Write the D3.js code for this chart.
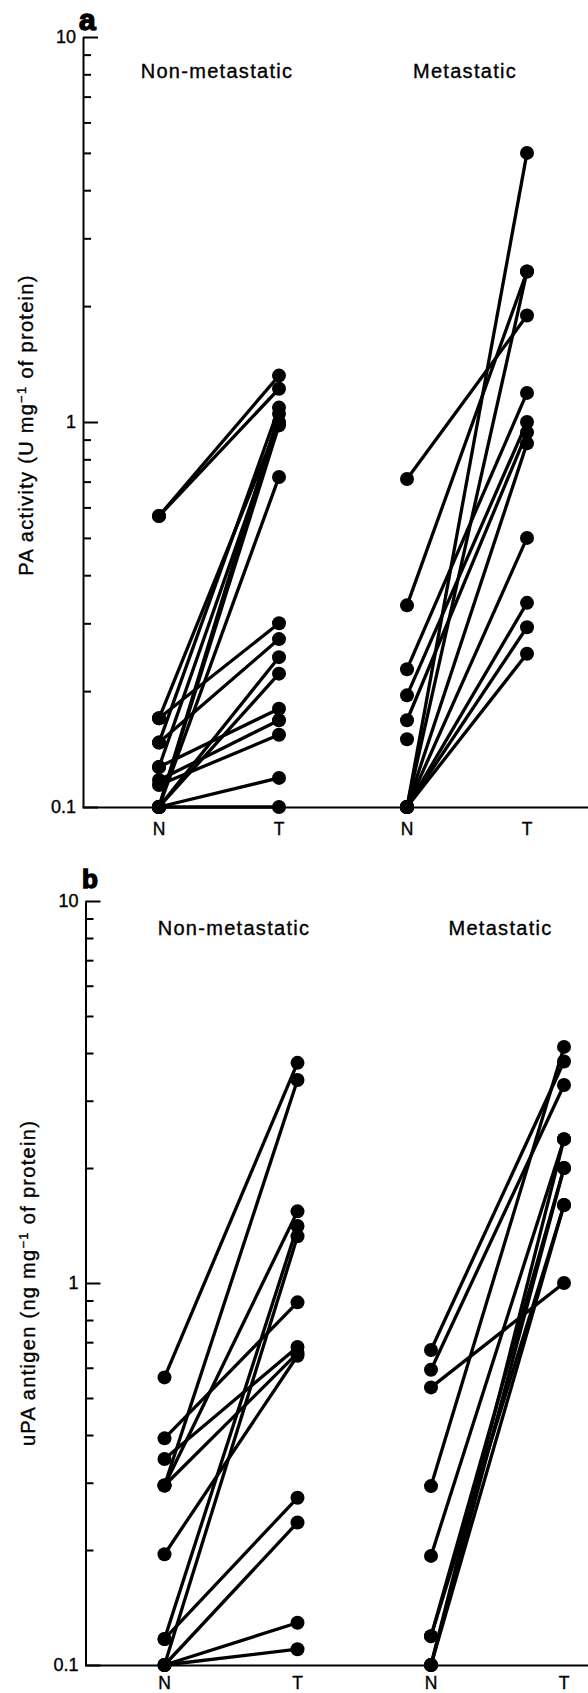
<!DOCTYPE html>
<html><head><meta charset="utf-8">
<script src="https://cdn.jsdelivr.net/npm/d3@7"></script>
<style>
html,body{margin:0;padding:0;background:#fff;}
svg{display:block;}
text{font-family:"Liberation Sans",Arial,Helvetica,sans-serif;fill:#000;}
</style></head><body>
<svg id="chart" width="588" height="1693"></svg>
<script>
// ---------- data ----------
const groups = ["Non-metastatic", "Metastatic"];
const sites = ["N", "T"];
const majorTicks = [0.1, 1, 10];
const majorTickLabels = ["0.1", "1", "10"];
const minorTicks = [0.2, 0.3, 0.4, 0.5, 0.6, 0.7, 0.8, 0.9, 2, 3, 4, 5, 6, 7, 8, 9];

// Panel a: PA activity (U mg-1 of protein); paired normal (N) / tumour (T)
const paNonMetN = [0.57, 0.57, 0.17, 0.17, 0.147, 0.147, 0.127, 0.127, 0.1175, 0.114, 0.1, 0.1, 0.1, 0.1, 0.1, 0.1, 0.1];
const paNonMetT = [1.32, 1.22, 1.0, 0.30, 1.09, 0.273, 0.99, 0.18, 0.168, 0.154, 0.98, 0.72, 0.245, 0.222, 0.119, 0.1, 1.05];
const paMetN = [0.711, 0.334, 0.228, 0.195, 0.168, 0.150, 0.1, 0.1, 0.1, 0.1, 0.1, 0.1, 0.1];
const paMetT = [1.89, 2.46, 1.19, 1.0, 0.94, null, 5.0, 2.46, 0.88, 0.50, 0.339, 0.293, 0.25];

// Panel b: uPA antigen (ng mg-1 of protein)
const upaNonMetN = [0.566, 0.392, 0.346, 0.295, 0.295, 0.295, 0.195, 0.117, 0.117, 0.1, 0.1, 0.1, 0.1];
const upaNonMetT = [3.77, 0.89, 0.68, 3.40, 1.54, 0.655, 0.645, 1.41, 0.274, 1.325, 0.236, 0.129, 0.11];
const upaMetN = [0.668, 0.593, 0.533, 0.294, 0.193, 0.119, 0.119, 0.1, 0.1, 0.1];
const upaMetT = [3.8, 3.3, 1.0, 4.15, 2.38, 2.0, 1.6, 2.38, 2.0, 1.6];

// ---------- drawing ----------
const svg = d3.select("#chart");
const W = 588;

function drawPanel(p) {
  const g = svg.append("g");
  const y = d3.scaleLog().domain([0.1, 10]).range([p.yBottom, p.yTop]);
  const gx = d3.scalePoint().domain(groups).range(p.groupRange);
  const sx = d3.scalePoint().domain(sites).range(p.siteRange);
  const X = (grp, site) => gx(grp) + sx(site);

  // y axis: major ticks + domain
  const ax = g.append("g").attr("transform", `translate(${p.axisX},0)`)
    .call(d3.axisRight(y).tickValues(majorTicks).tickSize(15).tickSizeOuter(0).tickFormat(""));
  ax.select(".domain").attr("stroke", "#000").attr("stroke-width", 2);
  ax.selectAll(".tick line").attr("stroke", "#000").attr("stroke-width", 2);

  const mx = g.append("g").attr("transform", `translate(${p.axisX},0)`)
    .call(d3.axisRight(y).tickValues(minorTicks).tickSize(8).tickFormat(""));
  mx.select(".domain").remove();
  mx.selectAll(".tick line").attr("stroke", "#000").attr("stroke-width", 2);

  // tick labels
  const lab = g.append("g").attr("transform", `translate(${p.axisX},0)`)
    .call(d3.axisLeft(y).tickValues(majorTicks).tickSize(0).tickPadding(p.tickPad)
      .tickFormat((d, i) => majorTickLabels[i]));
  lab.select(".domain").remove();
  lab.selectAll("text").attr("font-size", 18).attr("font-family", '"Liberation Sans",Arial,sans-serif')
    .attr("fill", "#000").attr("stroke", "#000").attr("stroke-width", 0.35);

  // x axis line
  const xb = g.append("g").attr("transform", `translate(0,${y(0.1)})`)
    .call(d3.axisBottom(d3.scaleLinear().range([p.axisX - 1, W])).tickValues([]).tickSizeOuter(0));
  xb.select(".domain").attr("stroke", "#000").attr("stroke-width", 2);

  // N / T labels and group titles
  groups.forEach(grp => {
    sites.forEach(s => {
      g.append("text").attr("x", X(grp, s)).attr("y", p.siteLabelY)
        .attr("text-anchor", "middle").attr("font-size", 17.5)
        .attr("stroke", "#000").attr("stroke-width", 0.35).text(s);
    });
    g.append("text").attr("x", gx(grp) + p.titleDx).attr("y", p.titleY)
      .attr("text-anchor", "middle").attr("font-size", 20)
      .attr("letter-spacing", "1.3px").attr("stroke", "#000").attr("stroke-width", 0.35).text(grp);
  });

  // pairs
  p.series.forEach(ser => {
    const pairs = ser.N.map((n, i) => ({ n, t: ser.T[i] }));
    g.append("g").selectAll("line").data(pairs.filter(d => d.t != null)).join("line")
      .attr("x1", X(ser.group, "N")).attr("y1", d => y(d.n))
      .attr("x2", X(ser.group, "T")).attr("y2", d => y(d.t))
      .attr("stroke", "#000").attr("stroke-width", 3.3);
    g.append("g").selectAll("circle").data(pairs).join("circle")
      .attr("cx", X(ser.group, "N")).attr("cy", d => y(d.n)).attr("r", p.r).attr("fill", "#000");
    g.append("g").selectAll("circle").data(pairs.filter(d => d.t != null)).join("circle")
      .attr("cx", X(ser.group, "T")).attr("cy", d => y(d.t)).attr("r", p.r).attr("fill", "#000");
  });

  // panel letter
  g.append("text").attr("x", p.letterX).attr("y", p.letterY)
    .attr("font-size", p.letterSize).attr("font-weight", "bold")
    .attr("stroke", "#000").attr("stroke-width", 1.4).text(p.letter);

  // y label
  const yl = g.append("text")
    .attr("transform", `translate(${p.ylabX},${(p.yTop + p.yBottom) / 2 + p.ylabDy}) rotate(-90)`)
    .attr("text-anchor", "middle").attr("font-size", 20).attr("letter-spacing", "1.3px")
    .attr("stroke", "#000").attr("stroke-width", 0.35);
  yl.append("tspan").text(p.ylabPre);
  yl.append("tspan").attr("baseline-shift", "super").attr("font-size", 13).text("−1");
  yl.append("tspan").text(p.ylabPost);
}

drawPanel({
  letter: "a", letterX: 79, letterY: 30, letterSize: 30,
  axisX: 83, yTop: 37, yBottom: 807, tickPad: 7,
  groupRange: [219, 467], siteRange: [-60, 60],
  titleY: 78, titleDx: -2, siteLabelY: 835, r: 7,
  ylabX: 33, ylabDy: 3, ylabPre: "PA activity (U mg", ylabPost: " of protein)",
  series: [
    { group: "Non-metastatic", N: paNonMetN, T: paNonMetT },
    { group: "Metastatic", N: paMetN, T: paMetT }
  ]
});

drawPanel({
  letter: "b", letterX: 82, letterY: 888, letterSize: 26,
  axisX: 85.5, yTop: 901, yBottom: 1665, tickPad: 7,
  groupRange: [231, 497.5], siteRange: [-66.5, 66.5],
  titleY: 935, titleDx: 3, siteLabelY: 1688.5, r: 7,
  ylabX: 35, ylabDy: 0, ylabPre: "uPA antigen (ng mg", ylabPost: " of protein)",
  series: [
    { group: "Non-metastatic", N: upaNonMetN, T: upaNonMetT },
    { group: "Metastatic", N: upaMetN, T: upaMetT }
  ]
});
</script>
</body></html>
